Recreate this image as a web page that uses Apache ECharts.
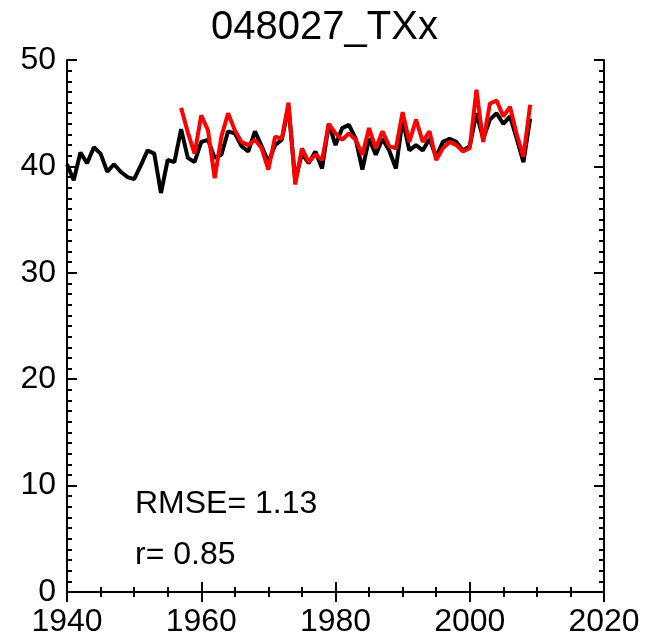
<!DOCTYPE html>
<html>
<head>
<meta charset="utf-8">
<script src="https://cdn.jsdelivr.net/npm/echarts@6/dist/echarts.min.js"></script>
<style>
html, body { margin: 0; padding: 0; background: #fff; }
#show { width: 649px; height: 643px; }
</style>
</head>
<body>
<div id="show"></div>
<script>
var myChart = echarts.init(document.getElementById("show"));

// observed series, 1940-2009
var obsStart = 1940;
var obsValues = [
    40.2, 38.7, 41.3, 40.3, 41.8, 41.2, 39.5, 40.2, 39.5, 39.0,
    38.8, 40.1, 41.5, 41.2, 37.5, 40.6, 40.4, 43.5, 40.8, 40.4,
    42.3, 42.5, 40.8, 41.1, 43.3, 43.1, 41.9, 41.4, 43.3, 41.9,
    40.4, 42.0, 42.5, 45.6, 38.7, 41.2, 40.3, 41.4, 39.8, 44.0,
    42.0, 43.6, 43.9, 42.6, 39.7, 42.6, 41.1, 42.6, 41.5, 39.8,
    44.4, 41.5, 42.0, 41.5, 42.6, 40.9, 42.3, 42.6, 42.3, 41.5,
    41.9, 45.0, 42.6, 44.4, 45.0, 44.0, 44.7, 42.6, 40.4, 44.5
];

// modelled series, 1957-2009
var modStart = 1957;
var modValues = [
    45.5, 43.2, 41.2, 44.8, 43.4, 38.9, 42.8, 45.0, 43.4, 42.3,
    42.0, 42.5, 41.7, 39.7, 42.8, 42.6, 46.0, 38.3, 41.7, 40.4,
    41.1, 40.6, 44.0, 43.1, 42.5, 43.1, 42.5, 41.1, 43.6, 41.7,
    43.3, 41.9, 41.7, 45.1, 42.3, 44.4, 42.3, 43.3, 40.6, 41.7,
    42.3, 42.0, 41.4, 41.7, 47.2, 42.3, 45.9, 46.2, 44.7, 45.6,
    43.0, 40.9, 45.8
];

var stats = ["RMSE= 1.13", "r= 0.85"];

function pairs(start, values) {
    return values.map(function (v, i) { return [start + i, v]; });
}

var fontFam = "Liberation Sans, Arial, sans-serif";
var axisLine = { show: true, lineStyle: { color: '#000', width: 2 } };
var tick = { show: true, inside: true, length: 10, lineStyle: { color: '#000', width: 2 } };
var minor = { show: true, splitNumber: 4, length: 5, lineStyle: { color: '#000', width: 2 } };
var minorY = { show: true, splitNumber: 10, length: 5, lineStyle: { color: '#000', width: 2 } };

myChart.setOption({
    animation: false,
    title: {
        text: '048027_TXx',
        left: 'center',
        top: 3,
        textStyle: { fontFamily: fontFam, fontSize: 40, fontWeight: 'normal', color: '#000' }
    },
    grid: { left: 67, right: 45, top: 60, bottom: 51 },
    xAxis: [
        {
            type: 'value', min: 1940, max: 2020, interval: 20,
            axisLine: axisLine, axisTick: tick, minorTick: minor,
            splitLine: { show: false },
            axisLabel: {
                fontFamily: fontFam, fontSize: 32, color: '#000', margin: 14,
                formatter: function (v) { return String(v); }
            }
        },
        {
            type: 'value', position: 'top', min: 1940, max: 2020, interval: 20,
            axisLine: axisLine, axisTick: tick, minorTick: minor,
            splitLine: { show: false }, axisLabel: { show: false }
        }
    ],
    yAxis: [
        {
            type: 'value', min: 0, max: 50, interval: 10,
            axisLine: axisLine, axisTick: tick, minorTick: minorY,
            splitLine: { show: false },
            axisLabel: { fontFamily: fontFam, fontSize: 32, color: '#000', margin: 11 }
        },
        {
            type: 'value', position: 'right', min: 0, max: 50, interval: 10,
            axisLine: axisLine, axisTick: tick, minorTick: minorY,
            splitLine: { show: false }, axisLabel: { show: false }
        }
    ],
    graphic: [
        { type: 'text', left: 135, top: 488, style: { text: stats[0], font: '32px ' + fontFam, fill: '#000' } },
        { type: 'text', left: 135, top: 539, style: { text: stats[1], font: '32px ' + fontFam, fill: '#000' } }
    ],
    series: [
        {
            type: 'line', data: pairs(obsStart, obsValues),
            showSymbol: false, lineStyle: { color: '#000', width: 4 }, z: 2
        },
        {
            type: 'line', data: pairs(modStart, modValues),
            showSymbol: false, lineStyle: { color: '#ff0000', width: 4 }, z: 3
        }
    ]
});
</script>
</body>
</html>
